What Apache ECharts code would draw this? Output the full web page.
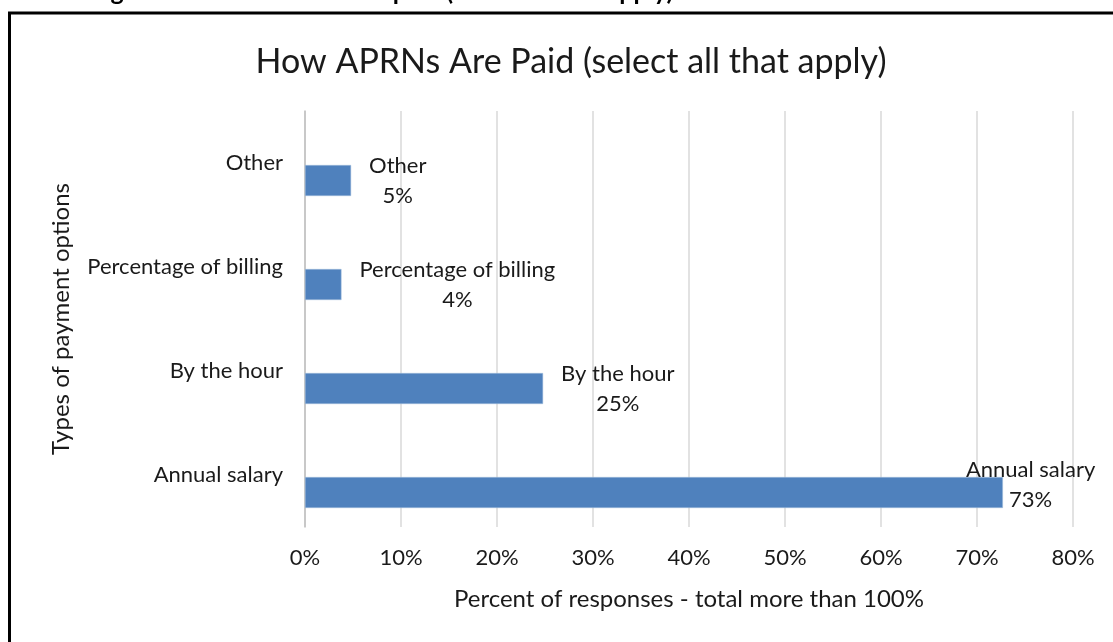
<!DOCTYPE html>
<html>
<head>
<meta charset="utf-8">
<script src="https://cdn.jsdelivr.net/npm/echarts@6/dist/echarts.min.js"></script>
<style>
  html, body { margin: 0; padding: 0; background: #fff; }
  #chart { width: 1113px; height: 642px; }
</style>
</head>
<body>
<div id="chart"></div>
<script>
// categories bottom -> top, as the value axis runs
const categories = ['Annual salary', 'By the hour', 'Percentage of billing', 'Other']
const percentPaid = [72.7, 24.8, 3.8, 4.8]
// empty companion series: Excel drew the bars in the lower half of each band
const emptySeries = [null, null, null, null]
const xTicks = [0, 10, 20, 30, 40, 50, 60, 70, 80]

const font = 'Lato, "Open Sans", sans-serif'
const textColor = '#1a1a1a'

const chart = echarts.init(document.getElementById('chart'))

const barData = percentPaid.map((v, i) => {
  const item = { value: v }
  // the last label would run past the plot, Excel pulled it back
  if (categories[i] === 'Annual salary') {
    item.label = { offset: [-55, -8] }
  }
  return item
})

const option = {
  animation: false,
  title: {
    text: 'How APRNs Are Paid (select all that apply)',
    left: 566,
    top: 40,
    textAlign: 'center',
    textStyle: { fontFamily: font, fontSize: 34, fontWeight: 'normal', color: textColor }
  },
  graphic: [
    {
      type: 'text',
      left: 90,
      top: -21,
      style: {
        text: 'Figure 11: How APRNs are paid (select all that apply)',
        font: 'bold 25px ' + font,
        fill: '#000'
      }
    },
    {
      type: 'rect',
      shape: { x: 9.5, y: 13, width: 1300, height: 800 },
      style: { fill: 'none', stroke: '#000', lineWidth: 3 }
    }
  ],
  grid: { left: 305, right: 40, top: 111, bottom: 115 },
  xAxis: {
    type: 'value',
    min: xTicks[0],
    max: xTicks[xTicks.length - 1],
    interval: 10,
    axisLine: { show: false },
    axisTick: { show: false },
    splitLine: { lineStyle: { color: '#d9d9d9', width: 1.5 } },
    axisLabel: {
      margin: 20,
      fontFamily: font,
      fontSize: 22,
      color: textColor,
      formatter: v => v + '%'
    },
    name: 'Percent of responses - total more than 100%',
    nameLocation: 'middle',
    nameGap: 60,
    nameTextStyle: { fontFamily: font, fontSize: 24, color: textColor }
  },
  yAxis: {
    type: 'category',
    data: categories,
    axisLine: { lineStyle: { color: '#bfbfbf', width: 1.5 } },
    axisTick: { length: 8, lineStyle: { color: '#bfbfbf', width: 1.5 } },
    axisLabel: { margin: 22, fontFamily: font, fontSize: 22, color: textColor },
    name: 'Types of payment options',
    nameLocation: 'middle',
    nameGap: 232,
    nameTextStyle: { fontFamily: font, fontSize: 24, color: textColor }
  },
  series: [
    {
      type: 'bar',
      data: emptySeries,
      barWidth: 31,
      barGap: '13%',
      silent: true
    },
    {
      type: 'bar',
      data: barData,
      barWidth: 31,
      itemStyle: { color: '#4f81bd', borderColor: '#a7c0de', borderWidth: 0.5 },
      label: {
        show: true,
        position: 'right',
        distance: 18,
        fontFamily: font,
        fontSize: 22,
        lineHeight: 30,
        color: textColor,
        formatter: p => '{c|' + categories[p.dataIndex] + '}\n{c|' + Math.round(p.value) + '%}',
        rich: {
          c: { align: 'center', fontFamily: font, fontSize: 22, lineHeight: 30, color: textColor }
        }
      }
    }
  ]
}

chart.setOption(option)
</script>
</body>
</html>
